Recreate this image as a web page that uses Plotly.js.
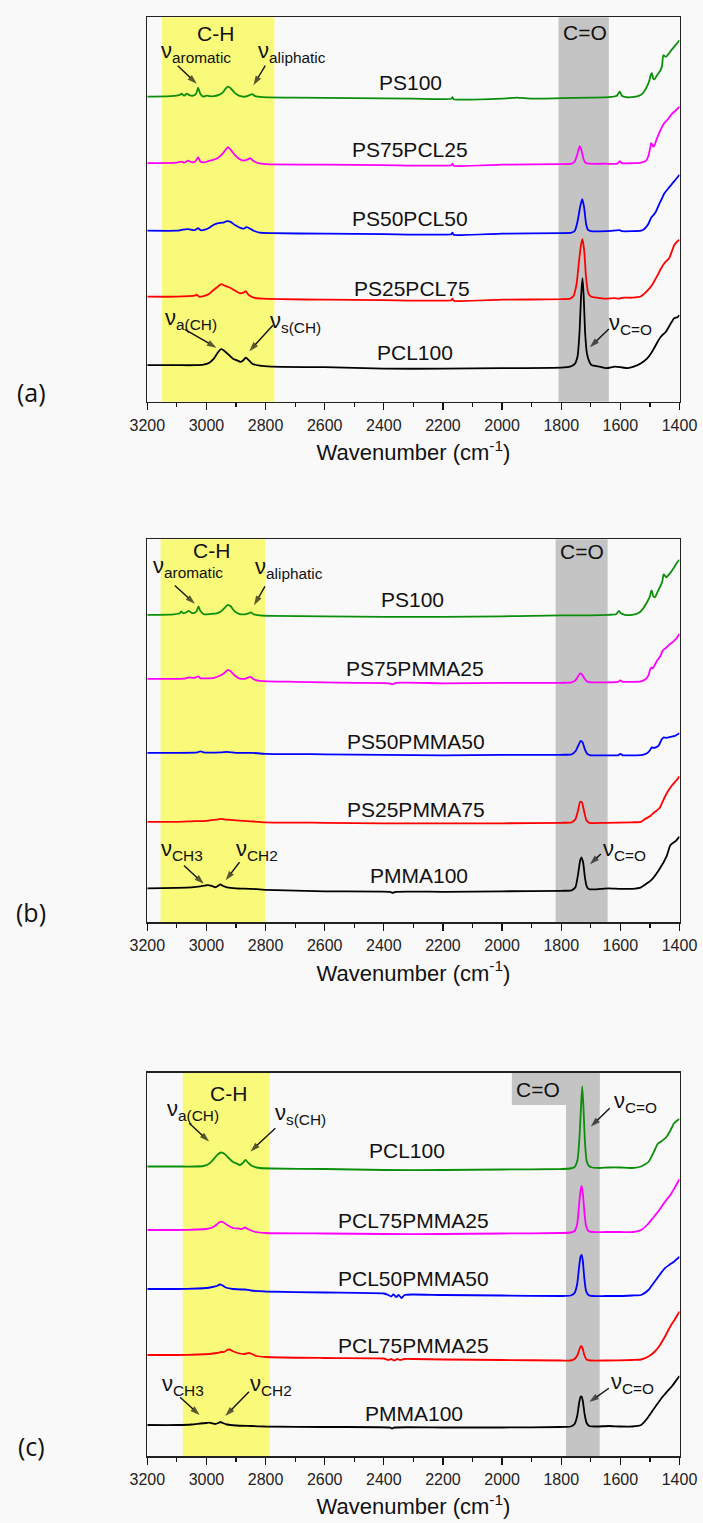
<!DOCTYPE html>
<html><head><meta charset="utf-8">
<script src="https://cdn.plot.ly/plotly-3.0.1.min.js"></script>
<style>html,body{margin:0;padding:0;background:#f9f9f9}</style>
</head><body><div id="chart" style="width:703px;height:1523px"></div>
<script>
// ---------- DATA: spectra as [wavenumber (cm-1), absorbance (a.u., offset)] ----------
// Panel (a): PS / PCL blends
const PS100_a = [[3200,305],[3120,305.5],[3092,306.5],[3084,308],[3076,306],[3066,308],[3058,306.5],[3045,306],[3035,308],[3028,314],[3021,308],[3010,305],[3000,306],[2990,305.5],[2975,305.5],[2960,306.5],[2945,309],[2935,313],[2927,315],[2918,313.5],[2905,309],[2890,306],[2870,305],[2855,306.5],[2845,307.5],[2835,305.5],[2810,304.5],[2700,304],[2500,303.5],[2300,303],[2172,303],[2168,304.5],[2164,302.5],[2000,303],[1950,304],[1900,303],[1800,303.5],[1700,304],[1640,304.5],[1612,306],[1602,310],[1595,306],[1580,304.5],[1560,304.5],[1540,305.5],[1525,308],[1512,314],[1502,321],[1497,327],[1493,328.5],[1489,323],[1484,322.5],[1475,327],[1465,331],[1459,336],[1455,346.5],[1450,345.5],[1445,345],[1435,348.5],[1428,351.5],[1415,356],[1400,361.5]];
const PS75PCL25_a = [[3200,238.5],[3100,239],[3085,240],[3075,239],[3062,241],[3050,239.5],[3038,240],[3028,244.5],[3020,240],[3005,239.5],[2990,241],[2975,242],[2960,244],[2945,248],[2935,252],[2927,254.5],[2918,252],[2905,247],[2890,243],[2875,241],[2862,242],[2852,243.5],[2842,241],[2825,238.5],[2800,237.5],[2600,237],[2400,236.5],[2172,236.5],[2168,238],[2164,236],[2000,237],[1800,237.5],[1765,238],[1755,240],[1745,248],[1738,255.5],[1732,252],[1725,243],[1718,239],[1705,238],[1650,238],[1610,238],[1602,240.5],[1595,238.5],[1560,238.5],[1530,239],[1513,241],[1505,246],[1499,254],[1496,258.5],[1493,257.5],[1489,255],[1485,256],[1478,262],[1465,271],[1457,276],[1452,278.5],[1447,280],[1438,283],[1425,288],[1410,292],[1400,295]];
const PS50PCL50_a = [[3200,171],[3100,171],[3080,172],[3062,172.5],[3040,171.5],[3028,173.5],[3020,171.5],[3005,172],[2990,174],[2975,177],[2960,178.5],[2945,179],[2930,180.5],[2920,180],[2905,177],[2890,174.5],[2875,173],[2865,174.5],[2855,173.5],[2840,171],[2820,169],[2780,168.5],[2600,168],[2400,167.5],[2172,167.5],[2168,169],[2164,167],[2000,168],[1800,168.5],[1765,169],[1754,171],[1745,180],[1736,195],[1729,202.5],[1723,195],[1716,178],[1710,172],[1700,170.5],[1650,170.5],[1602,171.5],[1595,170.5],[1560,170.5],[1530,171],[1518,173],[1505,178],[1496,184],[1490,186],[1480,190],[1468,198],[1458,204],[1452,208],[1440,212.5],[1429,216.5],[1415,221.5],[1400,227]];
const PS25PCL75_a = [[3200,105],[3100,105],[3060,105.5],[3040,106],[3033,107],[3025,105],[3010,105.5],[2990,108],[2975,112],[2962,115],[2950,117.5],[2938,116],[2920,114],[2900,110.5],[2887,108.5],[2875,109],[2867,110.5],[2858,107],[2840,104],[2810,103],[2750,102.5],[2600,102],[2400,101.5],[2172,101.5],[2168,103],[2164,101],[2000,102],[1800,102.5],[1770,103],[1758,106],[1748,118],[1740,140],[1733,157],[1728,162.5],[1722,150],[1716,124],[1708,108],[1698,105],[1680,104],[1650,103],[1620,103.5],[1605,103],[1590,104],[1560,104],[1530,105.5],[1507,111.5],[1490,118],[1475,126],[1463,133],[1450,139],[1435,143.5],[1425,151],[1418,156.5],[1408,160],[1400,162]];
const PCL100_a = [[3200,36.5],[3100,36.5],[3040,36.5],[3010,37],[2990,39],[2975,43],[2962,49],[2950,52.5],[2940,51],[2925,47],[2910,43],[2898,41.5],[2885,39.8],[2877,41],[2867,44],[2857,41.5],[2845,38],[2820,36],[2780,35],[2600,34.5],[2400,33],[2200,33],[2000,33.5],[1800,34],[1770,35],[1755,37.5],[1745,45],[1738,70],[1733,105],[1728,123.5],[1724,105],[1719,68],[1713,48],[1705,40],[1698,36.7],[1670,35],[1647,33.5],[1619,35],[1600,34.5],[1575,33.5],[1555,35],[1530,38.5],[1510,43],[1496,48.5],[1485,54],[1474,60],[1463,65],[1446,70],[1429,78.5],[1418,83.5],[1407,84.5],[1400,86.7]];

// Panel (b): PS / PMMA blends
const PS100_b = [[3200,307.5],[3110,308],[3090,309],[3085,311],[3078,309],[3068,310],[3060,311.5],[3050,309.5],[3040,309.5],[3033,311],[3027,316],[3020,311],[3008,308],[2995,308],[2980,308.5],[2965,309],[2950,311],[2938,314.5],[2928,317.5],[2918,316],[2905,311],[2890,308.5],[2870,308],[2858,309],[2850,310],[2840,308],[2820,307],[2780,306.5],[2600,306],[2400,305.5],[2300,305.5],[2200,305.5],[2000,306],[1900,306.5],[1800,307],[1700,307],[1640,307.5],[1615,308],[1605,311.5],[1598,309],[1585,307.5],[1560,307.5],[1540,309],[1525,313],[1510,320],[1500,326],[1496,331],[1493,331.5],[1489,326],[1483,325],[1475,330],[1465,336],[1458,341],[1454,348],[1450,347],[1445,345],[1435,348],[1420,354],[1410,359],[1400,362.5]];
const PS75PMMA25_b = [[3200,243.5],[3100,243.5],[3070,244],[3060,245],[3040,244.5],[3028,246],[3020,244],[3000,244],[2975,244.5],[2955,246.5],[2940,249],[2928,252.5],[2918,251],[2905,247],[2890,244],[2870,243.5],[2858,245],[2850,245.5],[2840,243],[2820,241.5],[2700,240.5],[2500,239.5],[2380,239],[2370,238],[2360,239.5],[2200,239],[2000,239.5],[1800,239.5],[1765,240],[1752,242],[1743,246],[1736,249],[1730,248],[1722,244],[1714,241],[1700,240],[1650,240],[1608,240.5],[1600,242],[1592,240.5],[1560,240.5],[1530,241],[1515,243],[1505,247],[1499,253],[1494,255],[1490,254],[1484,257],[1475,262],[1465,266],[1458,271],[1453,273],[1447,274],[1437,277],[1420,281],[1410,284],[1400,288.5]];
const PS50PMMA50_b = [[3200,169.5],[3100,169.5],[3030,170],[3020,171],[3010,170],[2950,170],[2930,170.5],[2900,169.5],[2850,169.5],[2800,168.5],[2600,168],[2400,167.5],[2200,167],[2000,167.5],[1800,167.5],[1765,168],[1752,171],[1742,177],[1734,181.5],[1728,180],[1720,173],[1712,168.5],[1700,167],[1650,167],[1608,167],[1600,168.5],[1592,167],[1560,167],[1525,167.5],[1510,169],[1500,172],[1494,175],[1488,174.5],[1480,175],[1470,177],[1460,183],[1453,185],[1445,184.5],[1430,185.5],[1415,186.5],[1400,189]];
const PS25PMMA75_b = [[3200,100.5],[3100,100.5],[3050,101],[3000,101.5],[2975,102.5],[2960,103],[2950,103.5],[2940,103],[2920,102.5],[2900,102],[2850,101],[2800,100],[2600,99.5],[2400,99],[2200,99],[2000,99],[1800,99.5],[1765,100],[1752,103],[1743,112],[1736,120.5],[1730,120],[1722,110],[1715,102],[1705,99.5],[1650,99.5],[1560,100],[1530,100.5],[1518,103],[1500,106],[1485,110],[1468,114],[1455,122],[1445,128],[1437,132],[1425,137],[1410,142],[1400,146]];
const PMMA100_b = [[3200,34],[3100,34.5],[3050,35],[3020,36],[3002,37],[2990,37],[2978,36],[2970,35],[2960,36.5],[2953,38],[2945,36.5],[2930,35],[2900,34],[2850,33.5],[2800,32.5],[2600,31],[2380,30.5],[2370,29.5],[2360,30.5],[2200,30.5],[2000,31],[1800,31.5],[1765,32],[1752,35],[1743,48],[1736,62],[1732,65],[1726,60],[1720,45],[1714,36],[1705,33],[1680,33],[1660,33.5],[1640,34],[1600,33.5],[1560,33.5],[1530,35],[1493,43],[1468,53],[1443,66.5],[1431,77],[1412,81.5],[1400,85.7]];

// Panel (c): PCL / PMMA blends
const PCL100_c = [[3200,289.5],[3100,289.5],[3040,289.5],[3010,290],[2990,292.5],[2975,297],[2962,301.5],[2950,303.5],[2938,302],[2925,298],[2910,294],[2898,292.5],[2887,291],[2877,293],[2868,296],[2858,293],[2845,290],[2820,288],[2780,287.5],[2600,287],[2400,286],[2200,286],[2000,286.5],[1800,287],[1770,287.5],[1755,289],[1745,296],[1738,320],[1733,350],[1729,369.5],[1725,350],[1720,315],[1714,295],[1706,290],[1695,288.5],[1670,288],[1640,288.5],[1600,288.5],[1560,288],[1530,289.5],[1505,294],[1483,306.5],[1474,312],[1462,314.5],[1443,319.5],[1430,326],[1419,332.5],[1410,335],[1400,337]];
const PCL75PMMA25_c = [[3200,226],[3100,226],[3030,226.5],[3000,227],[2980,228.5],[2965,231.5],[2955,234],[2945,234],[2930,231],[2910,228],[2895,227.5],[2880,227],[2870,228.5],[2860,227],[2840,224.5],[2800,223],[2600,222.5],[2400,222],[2200,222],[2000,222.5],[1800,223],[1768,223.5],[1755,225],[1746,232],[1740,250],[1735,265],[1731,270],[1727,263],[1722,245],[1716,230],[1708,225],[1695,224],[1650,224],[1600,224],[1555,224],[1530,226],[1505,232.5],[1490,238],[1468,246],[1450,254],[1431,261],[1415,269],[1400,276.7]];
const PCL50PMMA50_c = [[3200,167],[3100,167],[3030,167.5],[3000,168],[2980,169],[2965,170],[2955,171.5],[2948,171],[2935,168.5],[2910,167],[2880,166.5],[2868,166.5],[2850,165.5],[2800,164.5],[2600,163.5],[2400,162.5],[2385,161],[2375,159.5],[2368,161.5],[2358,159],[2350,161],[2340,158],[2330,161],[2300,161.5],[2200,161],[2000,160.5],[1800,160],[1768,160.5],[1755,163],[1746,172],[1740,188],[1735,199],[1731,201],[1727,195],[1722,178],[1716,165],[1708,161],[1695,160],[1650,160],[1600,160],[1560,160.5],[1530,161],[1505,166],[1480,176],[1465,182],[1450,187.7],[1435,191],[1419,194.3],[1400,199.3]];
const PCL75PMMA25b_c = [[3200,101],[3100,101],[3030,101.5],[2990,102],[2965,103],[2950,104],[2940,104],[2930,106],[2922,106.5],[2912,105],[2895,103],[2870,102],[2858,103],[2850,102.5],[2830,100],[2800,99],[2600,98],[2400,97.5],[2385,96],[2375,97],[2365,95.5],[2355,97],[2345,96],[2330,97],[2300,97],[2200,96.5],[2000,96],[1800,95.5],[1768,95.5],[1755,97],[1745,101],[1738,107],[1733,110],[1728,108],[1722,101],[1714,96.5],[1700,95.5],[1650,95.5],[1560,96],[1530,96.5],[1505,99.5],[1485,104],[1468,110],[1450,119],[1431,129.5],[1415,137],[1400,144.5]];
const PMMA100_c = [[3200,31],[3100,31],[3050,31.5],[3020,32.5],[3000,33],[2990,33.3],[2978,32.5],[2970,32],[2960,33],[2953,34],[2945,33],[2930,31.5],[2900,30.5],[2850,30],[2800,29.5],[2600,29],[2380,28.5],[2372,27.5],[2364,28.5],[2200,28.5],[2000,28.5],[1800,29],[1768,29.5],[1755,32],[1746,40],[1740,52],[1735,59],[1731,59.5],[1727,55],[1721,42],[1714,33],[1705,30],[1680,29.5],[1640,30],[1600,29.5],[1560,29.5],[1530,31],[1508,38],[1480,50],[1455,60],[1440,65],[1425,70],[1410,76],[1400,80]];

const namesA = ['PS100','PS75PCL25','PS50PCL50','PS25PCL75','PCL100'];
const namesB = ['PS100','PS75PMMA25','PS50PMMA50','PS25PMMA75','PMMA100'];
const namesC = ['PCL100','PCL75PMMA25','PCL50PMMA50','PCL75PMMA25','PMMA100'];
const tickVals = [3200,3000,2800,2600,2400,2200,2000,1800,1600,1400];
const panelTags = ['(a)','(b)','(c)'];

// ---------- STYLE / LAYOUT ----------
const colors = ['#0b8f0b','#ff00ff','#0000ff','#ff0000','#000000'];
const FONT = 'Liberation Sans, Arial, sans-serif';
const W = 703, H = 1523;
const xL = 147.3, xR = 679.5;
const frames = [[17.3,401.7],[539.3,922.3],[1072.7,1456]];

const panels = [
  {s:'', names:namesA, data:[PS100_a,PS75PCL25_a,PS50PCL50_a,PS25PCL75_a,PCL100_a]},
  {s:'2', names:namesB, data:[PS100_b,PS75PMMA25_b,PS50PMMA50_b,PS25PMMA75_b,PMMA100_b]},
  {s:'3', names:namesC, data:[PCL100_c,PCL75PMMA25_c,PCL50PMMA50_c,PCL75PMMA25b_c,PMMA100_c]}
];

const traces = [];
panels.forEach(p => {
  p.data.forEach((arr, i) => {
    traces.push({
      type:'scatter', mode:'lines', name:p.names[i],
      x:arr.map(d=>d[0]), y:arr.map(d=>d[1]),
      xaxis:'x'+p.s, yaxis:'y'+p.s,
      line:{color:colors[i], width:1.8, shape:'spline', smoothing:0.5},
      showlegend:false, hoverinfo:'skip'
    });
  });
});

const layout = {
  width:W, height:H, margin:{l:0,r:0,t:0,b:0},
  paper_bgcolor:'#f9f9f9', plot_bgcolor:'#f9f9f9',
  font:{family:FONT, color:'#111'},
  showlegend:false, shapes:[], annotations:[]
};

frames.forEach((f, k) => {
  const s = panels[k].s;
  const xa = 'xaxis'+s, ya = 'yaxis'+s;
  layout[xa] = {
    domain:[xL/W, xR/W], range:[3200,1400], anchor:'y'+s,
    tickvals:tickVals, ticktext:tickVals.map(String),
    ticks:'outside', ticklen:7, tickwidth:1.3, tickcolor:'#111',
    minor:{dtick:100, tick0:1400, ticks:'outside', ticklen:4, tickwidth:1.2, tickcolor:'#111'},
    showline:true, linecolor:'#222', linewidth:1.6, mirror:true,
    showgrid:false, zeroline:false, fixedrange:true,
    tickfont:{size:16, family:FONT, color:'#222'}, ticklabelstandoff:1,
    title:{text:'Wavenumber (cm<sup>-1</sup>)', font:{size:22, family:FONT, color:'#111'}, standoff:12}
  };
  layout[ya] = {
    domain:[1-f[1]/H, 1-f[0]/H], range:[0, f[1]-f[0]], anchor:'x'+s,
    showticklabels:false, ticks:'', showline:true, linecolor:'#222', linewidth:1.6, mirror:true,
    showgrid:false, zeroline:false, fixedrange:true
  };
  layout.annotations.push({
    xref:'paper', yref:'paper', x:31/W, y:1-(f[1]-10)/H, text:panelTags[k],
    showarrow:false, xanchor:'center', yanchor:'middle',
    font:{size:25, family:'Open Sans, sans-serif', color:'#111'}
  });
});

function rect(s, x0, x1, y0, y1, color){
  layout.shapes.push({type:'rect', xref:'x'+s, yref:'y'+s+' domain', x0:x0, x1:x1, y0:y0, y1:y1,
    fillcolor:color, line:{width:0}, layer:'below'});
}
const YEL = '#fafa7a', GRY = '#c4c4c4';
rect('', 3150, 2770, 0, 1, YEL); rect('', 1809, 1639, 0, 1, GRY);
rect('2', 3155, 2801, 0, 1, YEL); rect('2', 1819, 1643, 0, 1, GRY);
rect('3', 3080, 2786, 0, 1, YEL); rect('3', 1784, 1670, 0, 1, GRY);
rect('3', 1967, 1670, 351/383.3, 1, GRY);

function txt(s, x, y, text, size, xanchor){
  layout.annotations.push({xref:'x'+s, yref:'y'+s, x:x, y:y, text:text, showarrow:false,
    xanchor:xanchor||'center', yanchor:'middle', font:{size:size, family:FONT, color:'#111'}});
}
// arrows drawn as two-point line traces with an oriented arrow marker at the head
function arr(s, x0, y0, x1, y1){
  traces.push({type:'scatter', mode:'lines+markers', x:[x0,x1], y:[y0,y1],
    xaxis:'x'+s, yaxis:'y'+s, showlegend:false, hoverinfo:'skip',
    line:{color:'#111', width:1.4},
    marker:{symbol:'arrow', angleref:'previous', size:[0,10], color:'#111', line:{width:0}}});
}
const nu = 'ν';
// series labels
const labA = [[2309,319],[2312,252.7],[2311,183.7],[2304,113.7],[2293,49.3]];
const labB = [[2302,323.3],[2294,254.3],[2292,180.7],[2292,113.3],[2282,46.7]];
const labC = [[2323,306],[2299,236],[2299,177.7],[2299,111],[2298,42.7]];
[labA,labB,labC].forEach((L,k)=>L.forEach((p,i)=>txt(panels[k].s, p[0], p[1], panels[k].names[i], 21)));

// panel (a)
txt('', 2968, 368.5, 'C-H', 21); txt('', 1721, 369, 'C=O', 21);
txt('', 3160, 350, nu+'<sub>aromatic</sub>', 22, 'left');
txt('', 2834, 350, nu+'<sub>aliphatic</sub>', 22, 'left');
arr('', 3097, 336, 3033, 318); arr('', 2801, 336, 2841, 316.5);
txt('', 3146, 83, nu+'<sub>a(CH)</sub>', 22, 'left');
txt('', 2791, 80, nu+'<sub>s(CH)</sub>', 22, 'left');
arr('', 3072, 72, 2966, 54); arr('', 2775, 76.5, 2855, 50.5);
txt('', 1645, 78, nu+'<sub>C=O</sub>', 22, 'left');
arr('', 1639, 72.7, 1703, 54.5);

// panel (b)
txt('2', 2984, 371.7, 'C-H', 21); txt('2', 1730, 370.7, 'C=O', 21);
txt('2', 3188, 355, nu+'<sub>aromatic</sub>', 22, 'left');
txt('2', 2841, 354, nu+'<sub>aliphatic</sub>', 22, 'left');
arr('2', 3107, 336.7, 3039, 318.5); arr('2', 2802, 336, 2839, 317);
txt('2', 3160, 72, nu+'<sub>CH3</sub>', 22, 'left');
txt('2', 2906, 72, nu+'<sub>CH2</sub>', 22, 'left');
arr('2', 3076, 56.7, 3009, 38.5); arr('2', 2888, 60, 2935, 42);
txt('2', 1666, 72, nu+'<sub>C=O</sub>', 22, 'left');
arr('2', 1666, 68.3, 1703, 58);

// panel (c)
txt('3', 2926, 362.7, 'C-H', 21); txt('3', 1878, 366.7, 'C=O', 21);
txt('3', 3140, 346, nu+'<sub>a(CH)</sub>', 22, 'left');
txt('3', 2776, 342, nu+'<sub>s(CH)</sub>', 22, 'left');
arr('3', 3058, 332.7, 2991, 314.5); arr('3', 2767, 327.7, 2851, 304.5);
txt('3', 1630, 354.5, nu+'<sub>C=O</sub>', 22, 'left');
arr('3', 1636, 347.7, 1700, 329.5);
txt('3', 3157, 71, nu+'<sub>CH3</sub>', 22, 'left');
txt('3', 2860, 71, nu+'<sub>CH2</sub>', 22, 'left');
arr('3', 3089, 58.7, 3023, 41); arr('3', 2856, 64.3, 2936, 40);
txt('3', 1639, 73, nu+'<sub>C=O</sub>', 22, 'left');
arr('3', 1639, 67.7, 1705, 54);

Plotly.newPlot('chart', traces, layout, {staticPlot:true, displayModeBar:false});
</script></body></html>
